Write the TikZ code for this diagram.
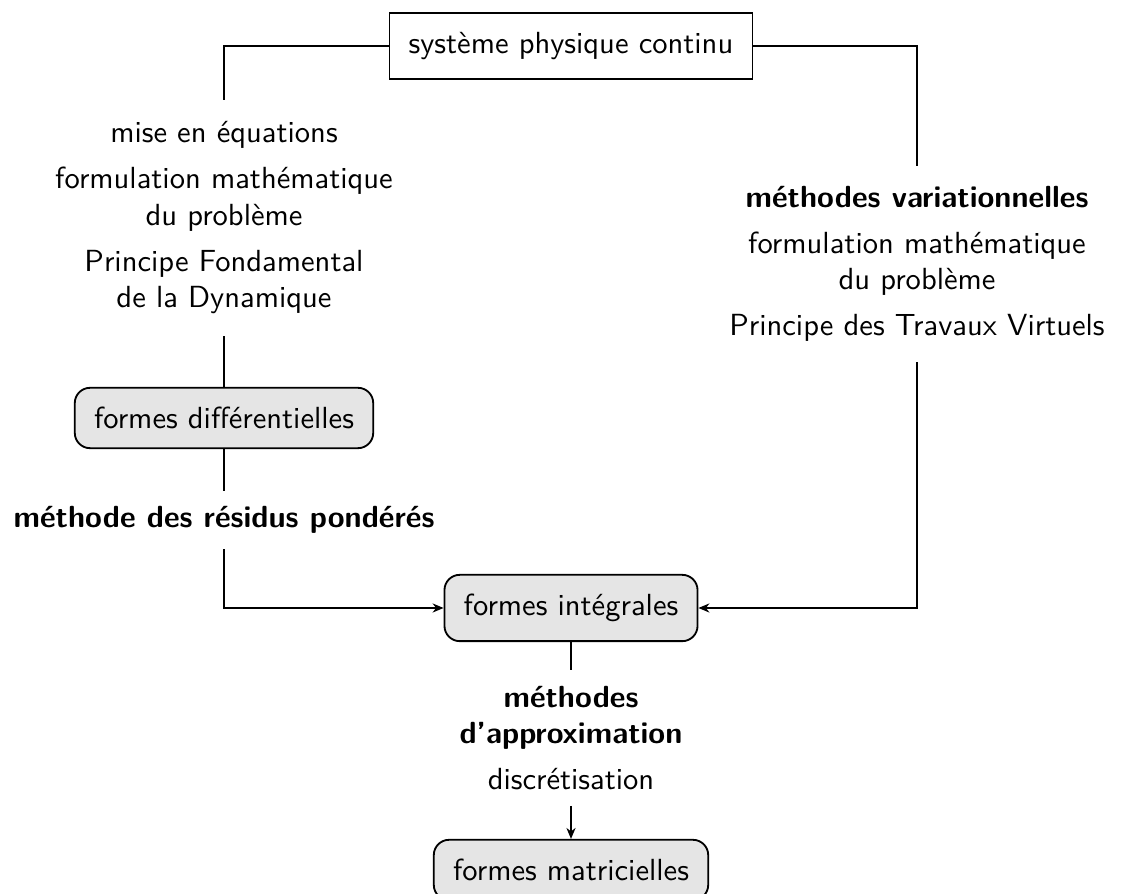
\documentclass[tikz,border=0pt]{standalone}
\usepackage{tikz}
\usetikzlibrary{calc, arrows.meta}

\begin{document}
\begin{tikzpicture}[
		x=0.0115cm, y=-0.0115cm,
		every node/.style={font=\sffamily, align=center},
		topbox/.style={draw, semithick, fill=white, inner sep=6.3pt},
		formbox/.style={draw, semithick, fill=black!10, rounded corners=5pt, inner sep=6.3pt},
		lbl/.style={inner xsep=2pt, inner ysep=5pt},
		link/.style={thin},
		arr/.style={thin, -{Stealth[length=3.6pt, width=3pt]}}]
		\useasboundingbox (0,0) rectangle (1122,894);
		\node[topbox]  (sys)    at (571,46)  {système physique continu};
		\node[lbl, inner ysep=7pt] (eqs) at (224,218) {mise en équations\\[3pt]
			formulation mathématique\\du problème\\[3pt]
			Principe Fondamental\\de la Dynamique};
		\node[formbox] (diff)   at (224,418) {formes différentielles};
		\node[lbl, font=\sffamily\bfseries] (resid) at (224,520) {méthode des résidus pondérés};
		\node[lbl, inner ysep=6.5pt] (varia) at (917,264) {\textbf{méthodes variationnelles}\\[3pt]
			formulation mathématique\\du problème\\[3pt]
			Principe des Travaux Virtuels};
		\node[formbox] (integ)  at (571,608) {formes intégrales};
		\node[lbl] (approx) at (571,738) {\textbf{méthodes}\\\textbf{d'approximation}\\[3pt]
			discrétisation};
		\node[formbox] (matri)  at (571,870) {formes matricielles};
		\draw[link] (sys.west) -| (eqs.north);
		\draw[link] (eqs.south) -- (diff.north);
		\draw[link] (diff.south) -- (resid.north);
		\draw[arr]  (resid.south) |- (integ.west);
		\draw[link] (sys.east) -| (varia.north);
		\draw[arr]  (varia.south) |- (integ.east);
		\draw[link] (integ.south) -- (approx.north);
		\draw[arr]  (approx.south) -- (matri.north);
\end{tikzpicture}
\end{document}
